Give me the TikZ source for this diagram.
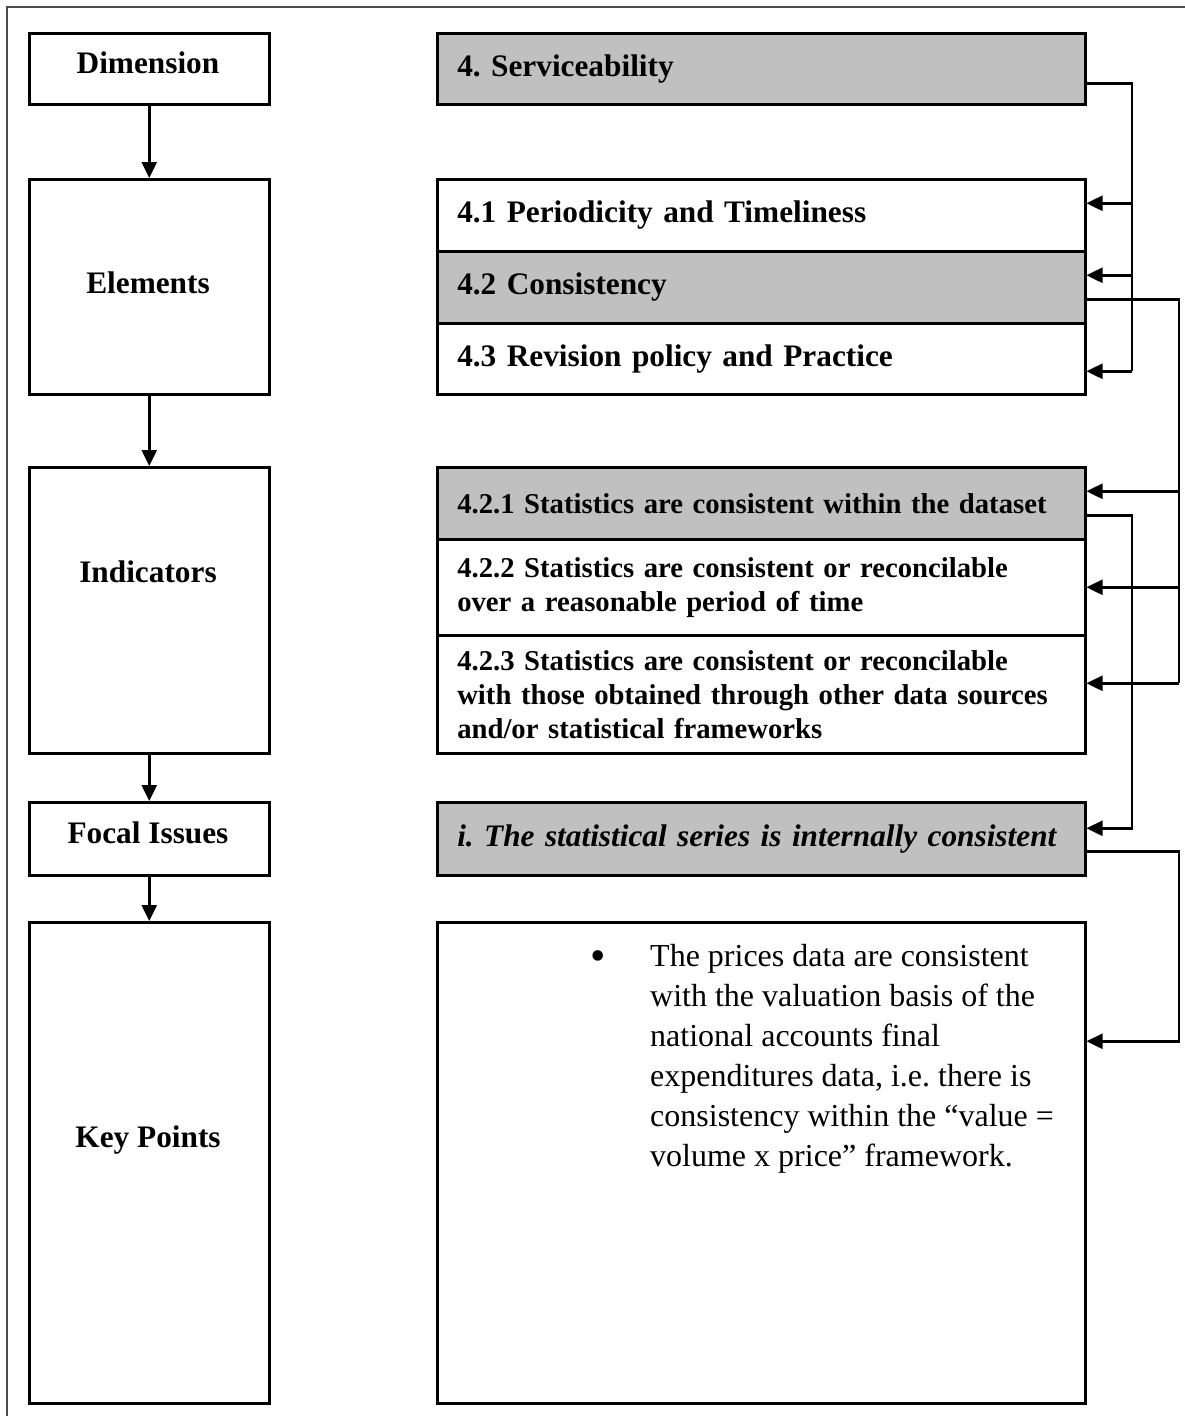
\documentclass[tikz,border=0pt]{standalone}
\usepackage{fontspec}
\setmainfont{Liberation Serif}
\usetikzlibrary{arrows.meta}
\definecolor{boxgray}{RGB}{192,192,192}
\frenchspacing
\tikzset{
  >={Triangle[length=16pt,width=15pt]},
  box/.style={draw, line width=2.5pt, rectangle, anchor=north west, inner sep=0pt},
  leftbox/.style={box, minimum width=240pt},
  rightbox/.style={box, minimum width=648pt, text width=608pt, align=left,
    inner xsep=20pt, font=\bfseries\fontsize{31.3}{37}\selectfont},
  indbox/.style={rightbox, font=\bfseries\fontsize{28.7}{34}\selectfont},
  shaded/.style={fill=boxgray},
  title/.style={font=\bfseries\fontsize{31.3}{37}\selectfont, anchor=base},
  keytext/.style={anchor=north west, align=left, inner sep=0pt,
    font=\fontsize{32}{40}\selectfont},
  wire/.style={line width=2.5pt},
  feed/.style={wire, ->},
  frame/.style={line width=2pt, draw=black!70},
}

\begin{document}
\begin{tikzpicture}[x=1pt, y=-1pt]
  \useasboundingbox (0,0) rectangle (1185,1416);
  \draw[frame] (7,1416) -- (7,7) -- (1185,7);

  % left column
  \node[leftbox, minimum height=71pt]  (dimb)  at (28,32)  {};
  \node[leftbox, minimum height=215pt] (elemb) at (28,178) {};
  \node[leftbox, minimum height=286pt] (indb)  at (28,466) {};
  \node[leftbox, minimum height=73pt]  (focb)  at (28,801) {};
  \node[leftbox, minimum height=481pt] (keyb)  at (28,921) {};

  \node[title] (dimt)  at (148,73)   {Dimension};
  \node[title] (elemt) at (148,293)  {Elements};
  \node[title] (indt)  at (148,582)  {Indicators};
  \node[title] (foct)  at (148,843)  {Focal Issues};
  \node[title] (keyt)  at (148,1147) {Key Points};

  \foreach \a/\b in {dimb/elemb, elemb/indb, indb/focb, focb/keyb}
    \draw[feed] (\a.south) -- (\b.north);

  % right column
  \node[rightbox, shaded, minimum height=71pt] (serv) at (436,32) {4. Serviceability};
  \node[rightbox, minimum height=72pt] (e41) at (436,178) {4.1 Periodicity and Timeliness};
  \node[rightbox, shaded, minimum height=72pt] (e42) at (436,250) {4.2 Consistency};
  \node[rightbox, minimum height=71pt] (e43) at (436,322) {4.3 Revision policy and Practice};

  \node[indbox, shaded, minimum height=72pt] (i421) at (436,466)
    {4.2.1 Statistics are consistent within the dataset};
  \node[indbox, minimum height=96pt] (i422) at (436,538)
    {4.2.2 Statistics are consistent or reconcilable\\over a reasonable period of time};
  \node[indbox, minimum height=118pt] (i423) at (436,634)
    {4.2.3 Statistics are consistent or reconcilable\\with those obtained through other data sources\\and/or statistical frameworks};

  \node[rightbox, shaded, minimum height=73pt, font=\bfseries\itshape\fontsize{31.3}{37}\selectfont] (focal) at (436,801)
    {\mbox{i. The statistical series is internally consistent}};
  \node[rightbox, minimum height=481pt] (keypts) at (436,921) {};
  \node[keytext] (kptext) at (650,944)
    {\makebox[0pt][r]{\raisebox{-4pt}{\fontsize{44}{40}\selectfont\textbullet}\hspace{44pt}}The prices data are consistent\\
     with the valuation basis of the\\
     national accounts final\\
     expenditures data, i.e. there is\\
     consistency within the “value =\\
     volume x price” framework.};

  \coordinate (busA) at (1132,0);
  \coordinate (busB) at (1179,0);

  % serviceability -> elements
  \draw[wire] ([yshift=-14.5pt]serv.east) -| ([yshift=-12.5pt]e43.east -| busA);
  \foreach \n/\s in {e41/12, e42/12, e43/-12.5}
    \draw[feed] ([yshift=\s pt]\n.east -| busA) -- ([yshift=\s pt]\n.east);

  % consistency -> indicators
  \draw[wire] ([yshift=-12pt]e42.east) -| ([yshift=11pt]i423.east -| busB);
  \foreach \n/\s in {i421/12, i422/0, i423/11}
    \draw[feed] ([yshift=\s pt]\n.east -| busB) -- ([yshift=\s pt]\n.east);

  % indicator -> focal issue
  \draw[feed] ([yshift=-12pt]i421.east) -| ([yshift=10.5pt]focal.east -| busA)
    -- ([yshift=10.5pt]focal.east);

  % focal issue -> key points
  \draw[feed] ([yshift=-12.5pt]focal.east) -| ([yshift=121.5pt]keypts.east -| busB)
    -- ([yshift=121.5pt]keypts.east);
\end{tikzpicture}
\end{document}
